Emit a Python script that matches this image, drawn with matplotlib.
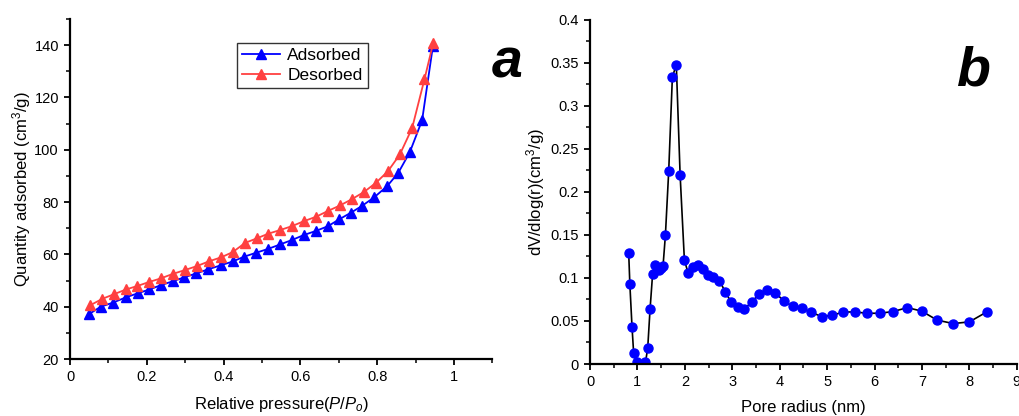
import numpy as np
import matplotlib.pyplot as plt
from matplotlib.ticker import MultipleLocator

plt.rcParams['font.family'] = ['Liberation Sans', 'DejaVu Sans']
plt.rcParams['mathtext.fontset'] = 'custom'
plt.rcParams['mathtext.rm'] = 'Liberation Sans'
plt.rcParams['mathtext.it'] = 'Liberation Sans:italic'

# (a) 吸附/脱附等温线
p_ads = [0.050, 0.080, 0.111, 0.146, 0.176, 0.207, 0.236, 0.267, 0.297, 0.328,
         0.360, 0.392, 0.424, 0.453, 0.484, 0.516, 0.547, 0.578, 0.609, 0.641,
         0.672, 0.701, 0.731, 0.760, 0.792, 0.826, 0.855, 0.885, 0.917, 0.945]
q_ads = [37.2, 40.0, 41.5, 43.6, 45.1, 46.6, 48.2, 49.7, 51.2, 52.7,
         54.3, 55.8, 57.3, 59.1, 60.6, 62.1, 63.8, 65.5, 67.4, 69.0,
         70.8, 73.4, 75.9, 78.5, 81.8, 86.1, 91.2, 99.1, 111.3, 139.5]
p_des = [0.052, 0.084, 0.115, 0.146, 0.175, 0.207, 0.236, 0.267, 0.299, 0.330,
         0.361, 0.394, 0.424, 0.456, 0.486, 0.516, 0.547, 0.578, 0.609, 0.641,
         0.673, 0.703, 0.734, 0.766, 0.797, 0.828, 0.859, 0.891, 0.923, 0.946]
q_des = [40.5, 43.0, 44.8, 46.6, 47.9, 49.5, 50.8, 52.5, 54.0, 55.5,
         57.3, 58.9, 60.9, 64.4, 66.1, 67.9, 69.3, 70.8, 72.7, 74.4,
         76.7, 78.7, 81.1, 83.9, 87.4, 91.8, 98.2, 108.3, 126.9, 140.9]

# (b) 孔径分布
radius = [0.816, 0.84, 0.886, 0.92, 0.985, 1.17, 1.217, 1.266, 1.32, 1.378,
          1.449, 1.498, 1.54, 1.59, 1.66, 1.737, 1.82, 1.90, 1.99, 2.07,
          2.18, 2.28, 2.38, 2.49, 2.60, 2.73, 2.85, 2.97, 3.12, 3.25,
          3.41, 3.57, 3.73, 3.90, 4.09, 4.27, 4.46, 4.67, 4.89, 5.11,
          5.34, 5.58, 5.85, 6.11, 6.39, 6.69, 6.99, 7.32, 7.66, 8.00, 8.38]
dvdlogr = [0.129, 0.093, 0.043, 0.013, 0.002, 0.002, 0.0186, 0.0636, 0.1047, 0.1147,
           0.109, 0.1116, 0.114, 0.150, 0.2248, 0.334, 0.3477, 0.220, 0.121, 0.1054,
           0.113, 0.1155, 0.110, 0.104, 0.1015, 0.097, 0.084, 0.0725, 0.066, 0.064,
           0.072, 0.0818, 0.086, 0.083, 0.0733, 0.067, 0.0647, 0.060, 0.055, 0.0566,
           0.0605, 0.0605, 0.059, 0.059, 0.061, 0.0655, 0.0616, 0.051, 0.047, 0.049, 0.061]


def style_axes(ax):
    for s in ['top', 'right']:
        ax.spines[s].set_visible(False)
    for s in ['left', 'bottom']:
        ax.spines[s].set_linewidth(1.6)
    ax.tick_params(which='major', direction='out', length=4.5, width=1.3, labelsize=10.5)
    ax.tick_params(which='minor', direction='out', length=3, width=1.1)


fig = plt.figure(figsize=(10.19, 4.16), dpi=100)

ax1 = fig.add_axes([0.0687, 0.137, 0.4145, 0.8173])
ax1.plot(p_ads, q_ads, '-^', color='#0000ff', lw=1.3, ms=7, label='Adsorbed')
ax1.plot(p_des, q_des, '-^', color='#ff4040', lw=1.3, ms=7, label='Desorbed')
ax1.set_xlim(0, 1.1)
ax1.set_ylim(20, 150)
ax1.xaxis.set_major_locator(MultipleLocator(0.2))
ax1.xaxis.set_minor_locator(MultipleLocator(0.1))
ax1.yaxis.set_major_locator(MultipleLocator(20))
ax1.yaxis.set_minor_locator(MultipleLocator(10))
ax1.set_xticks([0, 0.2, 0.4, 0.6, 0.8, 1.0], ['0', '0.2', '0.4', '0.6', '0.8', '1'])
ax1.set_yticks([20, 40, 60, 80, 100, 120, 140])
style_axes(ax1)
ax1.set_xlabel(r'Relative pressure($\mathit{P/P_o}$)', fontsize=12, labelpad=8)
ax1.set_ylabel(r'Quantity adsorbed (cm$^3$/g)', fontsize=12, labelpad=1)
leg = ax1.legend(loc='upper left', bbox_to_anchor=(0.395, 0.93), fontsize=12.5,
                 frameon=True, fancybox=False, edgecolor='black',
                 handlelength=2.2, borderpad=0.3, labelspacing=0.25,
                 handletextpad=0.4, borderaxespad=0)
leg.get_frame().set_linewidth(1.0)

ax2 = fig.add_axes([0.579, 0.125, 0.4189, 0.827])
ax2.plot(radius, dvdlogr, '-o', color='black', lw=1.2, ms=6.5,
         mfc='#0000ff', mec='#0000ff')
ax2.set_xlim(0, 9)
ax2.set_ylim(0, 0.4)
ax2.xaxis.set_major_locator(MultipleLocator(1))
ax2.xaxis.set_minor_locator(MultipleLocator(0.5))
ax2.set_yticks([0, 0.05, 0.1, 0.15, 0.2, 0.25, 0.3, 0.35, 0.4],
               ['0', '0.05', '0.1', '0.15', '0.2', '0.25', '0.3', '0.35', '0.4'])
ax2.yaxis.set_minor_locator(MultipleLocator(0.025))
style_axes(ax2)
ax2.set_xlabel('Pore radius (nm)', fontsize=12, labelpad=8)
ax2.set_ylabel(r'dV/dlog(r)(cm$^3$/g)', fontsize=12, labelpad=2)

fig.text(0.498, 0.848, 'a', fontsize=40, fontweight='bold', fontstyle='italic',
         ha='center', va='center')
fig.text(0.955, 0.828, 'b', fontsize=40, fontweight='bold', fontstyle='italic',
         ha='center', va='center')

fig.savefig('out.png', dpi=100)
